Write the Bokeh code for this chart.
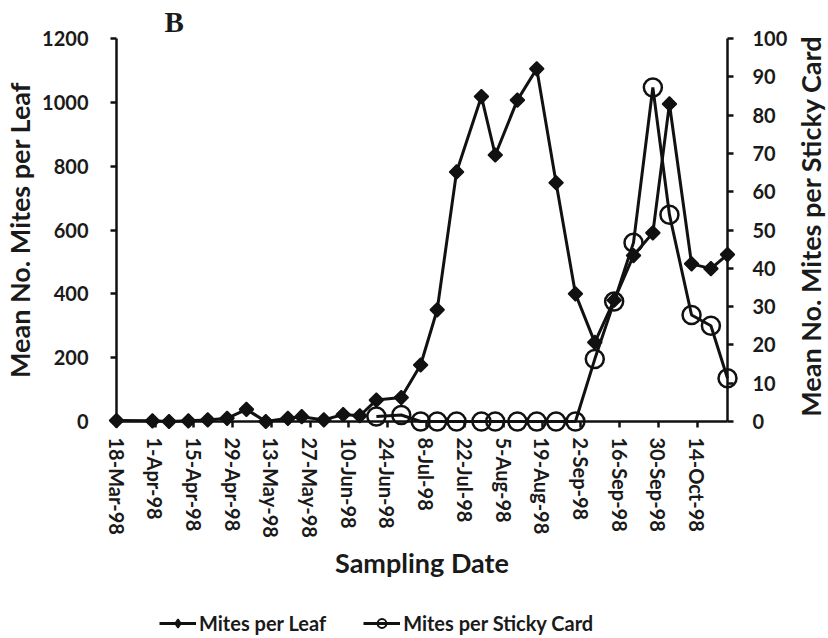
import math
import pandas as pd
from bokeh.plotting import figure
from bokeh.layouts import column
from bokeh.core.properties import value
from bokeh.models import (Range1d, LinearAxis, FixedTicker, CustomJSTickFormatter,
                          Legend, LegendItem)
from bokeh.embed import file_html
from bokeh.resources import INLINE

# ---- data ----
leaf_dates = ["1998-03-18", "1998-03-31", "1998-04-06", "1998-04-13", "1998-04-20",
              "1998-04-27", "1998-05-04", "1998-05-11", "1998-05-19", "1998-05-24",
              "1998-06-01", "1998-06-08", "1998-06-14", "1998-06-20", "1998-06-29",
              "1998-07-06", "1998-07-12", "1998-07-19", "1998-07-28", "1998-08-02",
              "1998-08-10", "1998-08-17", "1998-08-24", "1998-08-31", "1998-09-07",
              "1998-09-14", "1998-09-21", "1998-09-28", "1998-10-04", "1998-10-12",
              "1998-10-19", "1998-10-25"]
mites_per_leaf = [3, 2, 0, 2, 5, 10, 38, 0, 10, 15,
                  5, 22, 18, 67, 75, 177, 350, 782, 1018, 835,
                  1007, 1105, 748, 400, 248, 380, 520, 591, 995, 494,
                  479, 523]

card_dates = ["1998-06-20", "1998-06-29", "1998-07-06", "1998-07-12", "1998-07-19",
              "1998-07-28", "1998-08-02", "1998-08-10", "1998-08-17", "1998-08-24",
              "1998-08-31", "1998-09-07", "1998-09-14", "1998-09-21", "1998-09-28",
              "1998-10-04", "1998-10-12", "1998-10-19", "1998-10-25"]
mites_per_card = [1.3, 1.7, 0, 0, 0, 0, 0, 0, 0, 0,
                  0, 16.3, 31.3, 46.7, 87.2, 54, 27.8, 25, 11.3]

tick_dates = ["1998-03-18", "1998-04-01", "1998-04-15", "1998-04-29", "1998-05-13",
              "1998-05-27", "1998-06-10", "1998-06-24", "1998-07-08", "1998-07-22",
              "1998-08-05", "1998-08-19", "1998-09-02", "1998-09-16", "1998-09-30",
              "1998-10-14"]
leaf_ticks = list(range(0, 1201, 200))
card_ticks = list(range(0, 101, 10))
series_names = ["Mites per Leaf", "Mites per Sticky Card"]
right_title = "Mean No. Mites per Sticky Card"

leaf_x = pd.to_datetime(leaf_dates)
card_x = pd.to_datetime(card_dates)
tick_ms = [pd.Timestamp(d).value / 1e6 for d in tick_dates]

FONT = "Lato"
TXT = "#1a1a1a"
INK = "#111111"

xr = Range1d(leaf_x[0], leaf_x[-1])
p = figure(width=828, height=598, x_axis_type="datetime",
           x_range=xr, y_range=Range1d(0, 1200),
           output_backend="svg", toolbar_location=None,
           min_border_left=112, min_border_right=101, min_border_top=38,
           min_border_bottom=177)
p.outline_line_color = None
p.grid.visible = False
p.background_fill_color = "white"

p.title.text = "B"
p.title.text_font = "Liberation Serif"
p.title.text_font_style = "bold"
p.title.text_font_size = "29px"
p.title.text_color = TXT
p.title.align = "left"
p.title.offset = 48
p.title.standoff = 1

card_range = Range1d(0, 100)
p.extra_y_ranges = {"card": card_range}
raxis = LinearAxis(y_range_name="card", ticker=FixedTicker(ticks=card_ticks))
p.add_layout(raxis, "right")

# x axis
xa = p.xaxis[0]
xa.ticker = FixedTicker(ticks=tick_ms)
xa.formatter = CustomJSTickFormatter(code="""
const d = new Date(tick);
const m = ["Jan","Feb","Mar","Apr","May","Jun","Jul","Aug","Sep","Oct","Nov","Dec"][d.getUTCMonth()];
return d.getUTCDate() + "-" + m + "-" + String(d.getUTCFullYear()).slice(2);
""")
xa.major_label_orientation = "vertical"
xa.axis_label = "Sampling Date"
xa.major_label_standoff = 10
xa.axis_label_standoff = 5

ya = p.yaxis[0]
ya.ticker = FixedTicker(ticks=leaf_ticks)
ya.axis_label = "Mean No. Mites per Leaf"
ya.major_label_standoff = 22
ya.axis_label_standoff = 3

raxis.major_label_standoff = 19

for ax in [xa, ya, raxis]:
    ax.axis_line_color = INK
    ax.axis_line_width = 2.5
    ax.major_tick_line_color = INK
    ax.major_tick_line_width = 2.5
    ax.major_tick_out = 6
    ax.major_tick_in = 0
    ax.minor_tick_line_color = None
    ax.major_label_text_font = FONT
    ax.major_label_text_font_style = "bold"
    ax.major_label_text_font_size = "20px"
    ax.major_label_text_color = TXT
    ax.axis_label_text_font = FONT
    ax.axis_label_text_font_style = "bold"
    ax.axis_label_text_font_size = "27px"
    ax.axis_label_text_color = TXT

# right-hand axis title (reads bottom-to-top, as in the original)
p.text(x=[xr.end], y=[(card_range.start + card_range.end) / 2], text=[right_title],
       y_range_name="card", angle=math.pi / 2, x_offset=83, y_offset=-4,
       text_align="center", text_baseline="middle", text_font=value(FONT),
       text_font_style="bold", text_font_size="27px", text_color=TXT, level="overlay")

# series
line_kw = dict(line_color=INK, line_width=3)
leaf_kw = dict(marker="square", angle=math.pi / 4, size=10, fill_color=INK,
               line_color=INK, line_width=1.5)
card_kw = dict(marker="circle", size=18, fill_color=None, line_color=INK, line_width=2.5)

p.line(leaf_x, mites_per_leaf, level="overlay", **line_kw)
p.scatter(leaf_x, mites_per_leaf, level="overlay", **leaf_kw)
p.line(card_x, mites_per_card, y_range_name="card", level="overlay", **line_kw)
p.scatter(card_x, mites_per_card, y_range_name="card", level="overlay", **card_kw)

# legend strip below the chart (its keys use the same series, kept out of view)
lg = figure(width=828, height=40, x_axis_type="datetime", x_range=xr,
            y_range=Range1d(-3000, -2000),
            output_backend="svg", toolbar_location=None,
            x_axis_location=None, y_axis_location=None,
            min_border_left=0, min_border_right=0, min_border_top=0, min_border_bottom=0)
lg.outline_line_color = None
lg.grid.visible = False
pl1 = lg.line(leaf_x, mites_per_leaf, **line_kw)
ps1 = lg.scatter(leaf_x, mites_per_leaf, marker="diamond", size=13, fill_color=INK,
                 line_color=INK, line_width=1.5)
pl2 = lg.line(card_x, mites_per_card, **line_kw)
ps2 = lg.scatter(card_x, mites_per_card, marker="circle", size=13, fill_color=None,
                 line_color=INK, line_width=2)

legend = Legend(items=[LegendItem(label=series_names[0], renderers=[pl1, ps1]),
                       LegendItem(label=series_names[1], renderers=[pl2, ps2])],
                location=(43, 3), orientation="horizontal",
                border_line_color=None, background_fill_alpha=0,
                label_text_font=FONT, label_text_font_style="bold",
                label_text_font_size="20px", label_text_color=TXT,
                glyph_width=37, glyph_height=22, label_standoff=3, spacing=37,
                padding=0, margin=0)
lg.add_layout(legend, "center")

open("out.html", "w").write(file_html(column(p, lg, spacing=0), INLINE))
